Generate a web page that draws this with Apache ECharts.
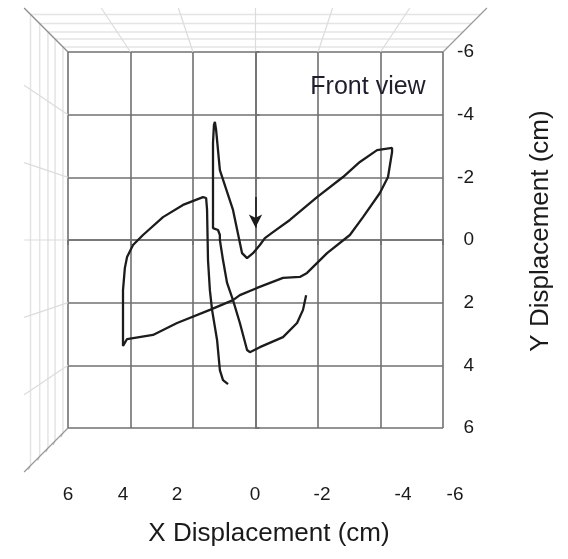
<!DOCTYPE html>
<html>
<head>
<meta charset="utf-8">
<script src="https://cdn.jsdelivr.net/npm/echarts@6/dist/echarts.min.js"></script>
<style>
  html, body { margin: 0; padding: 0; background: #fff; }
  #main { width: 568px; height: 559px; }
</style>
</head>
<body>
<div id="main"></div>
<script>
// traced pen path, cm (x reversed, y reversed on screen)
var traceX = [-1.62, -1.52, -1.33, -0.88, -0.14, 0.18, 0.27, 0.50, 0.72, 0.91, 1.04, 1.14, 1.14, 1.20, 1.36, 1.36, 1.33, 1.30, 1.26, 1.14,
    0.72, 0.43, 0.27, 0.08, -0.14, -0.30, -0.56, -1.10, -1.97, -2.80, -3.34, -3.89, -4.37, -4.37, -4.24, -3.98, -3.44, -3.02, -2.29, -1.65,
    -1.42, -0.88, -0.05, 0.50, 0.72, 1.46, 2.51, 3.28, 4.11, 4.24, 4.24, 4.24, 4.18, 4.11, 3.92, 3.60, 2.96, 2.32, 1.68, 1.58,
    1.55, 1.52, 1.46, 1.39, 1.23, 1.14, 1.04, 0.88];
var traceY = [1.76, 2.23, 2.65, 3.10, 3.42, 3.58, 3.51, 2.65, 1.92, 1.37, 0.64, 0.00, -0.16, -0.32, -0.38, -3.10, -3.67, -3.77, -3.51, -2.23,
    -0.96, 0.42, 0.58, 0.42, 0.16, -0.06, -0.25, -0.64, -1.37, -2.01, -2.49, -2.87, -2.94, -2.81, -2.01, -1.50, -0.73, -0.16, 0.42, 1.05,
    1.18, 1.21, 1.53, 1.76, 1.92, 2.23, 2.65, 3.03, 3.16, 3.38, 3.19, 1.60, 0.89, 0.54, 0.16, -0.16, -0.73, -1.12, -1.37, -1.34,
    -0.96, 0.64, 1.60, 2.23, 3.19, 4.15, 4.47, 4.60];
// start arrow (x, y from, y to)
var arrowX = 0;
var arrowY = [-1.37, -0.40];

var xTickLabels = ['6', '4', '2', '0', '-2', '-4', '-6'];
var xTickLabelPx = [68, 123, 177, 255, 322, 403, 455]; // perspective label positions
var depthLevels = [1.027, 1.069, 1.107, 1.151, 1.2];
var outerDepth = 1.234;

var gridColor = '#707070';
var textColor = '#1a1a1a';
var fontFam = '"Liberation Sans", Arial, sans-serif';

var traceData = traceX.map(function (x, i) { return [x, traceY[i]]; });

var myChart = echarts.init(document.getElementById('main'));

var option = {
    animation: false,
    backgroundColor: '#fff',
    grid: { left: 68, top: 52, width: 375, height: 376 },
    xAxis: {
        type: 'value', min: -6, max: 6, interval: 2, inverse: true,
        axisLine: { show: true, lineStyle: { color: gridColor, width: 1.6 } },
        axisTick: { show: true, length: 5, lineStyle: { color: gridColor, width: 1.6 } },
        axisLabel: { show: false },
        splitLine: { show: true, lineStyle: { color: gridColor, width: 1.6 } }
    },
    yAxis: {
        type: 'value', min: -6, max: 6, interval: 2, inverse: true, position: 'right',
        axisLine: { show: true, lineStyle: { color: gridColor, width: 1.6 } },
        axisTick: { show: true, length: 4, lineStyle: { color: gridColor, width: 1.6 } },
        axisLabel: { align: 'right', margin: 31, fontSize: 19, color: textColor, fontFamily: fontFam },
        splitLine: { show: true, lineStyle: { color: gridColor, width: 1.6 } }
    },
    series: [{
        type: 'line',
        data: traceData,
        showSymbol: false,
        symbol: 'none',
        lineStyle: { color: '#1c1c1c', width: 2.3 },
        z: 5,
        markLine: {
            silent: true,
            symbol: ['none', 'arrow'],
            symbolSize: [10, 13],
            label: { show: false },
            lineStyle: { color: '#1c1c1c', width: 1.6, type: 'solid' },
            data: [[{ coord: [arrowX, arrowY[0]] }, { coord: [arrowX, arrowY[1]] }]]
        }
    }]
};
myChart.setOption(option);

// 3D box decoration around the front face, from the grid corners
var tl = myChart.convertToPixel({ gridIndex: 0 }, [6, -6]);
var br = myChart.convertToPixel({ gridIndex: 0 }, [-6, 6]);
var cx = (tl[0] + br[0]) / 2, cy = (tl[1] + br[1]) / 2;
var tr = [br[0], tl[1]], bl = [tl[0], br[1]];
function proj(p, s) { return [cx + (p[0] - cx) * s, cy + (p[1] - cy) * s]; }
function seg(a, b, color, w) {
    return { type: 'line', silent: true, z: 0,
        shape: { x1: a[0], y1: a[1], x2: b[0], y2: b[1] },
        style: { stroke: color, lineWidth: w } };
}

var graphics = [];
depthLevels.forEach(function (s) {
    graphics.push(seg(proj(tl, s), proj(tr, s), '#e4e4e4', 1.5));
    graphics.push(seg(proj(tl, s), proj(bl, s), '#e4e4e4', 1.5));
    var b = proj(bl, s);
    graphics.push(seg(b, [b[0] - 2, b[1] + 4], '#b0b0b0', 1));
});
[-4, -2, 0, 2, 4].forEach(function (v) {
    var pt = myChart.convertToPixel({ gridIndex: 0 }, [v, -6]);
    graphics.push(seg(pt, proj(pt, outerDepth), '#dcdcdc', 1.2));
    var pl = myChart.convertToPixel({ gridIndex: 0 }, [6, v]);
    graphics.push(seg(pl, proj(pl, outerDepth), '#dcdcdc', 1.2));
});
graphics.push(seg(tl, proj(tl, outerDepth), '#8c8c8c', 1.3));
graphics.push(seg(tr, proj(tr, outerDepth), '#9a9a9a', 1.2));
graphics.push(seg(bl, proj(bl, outerDepth), '#9a9a9a', 1.2));

xTickLabels.forEach(function (t, i) {
    graphics.push({ type: 'text', silent: true,
        style: { x: xTickLabelPx[i], y: 495, text: t, fill: textColor, font: '19px ' + fontFam,
            textAlign: 'center', textVerticalAlign: 'middle' } });
});
graphics.push({ type: 'text', silent: true,
    style: { x: 368, y: 87, text: 'Front view', fill: '#1e1e2e', font: '25px ' + fontFam,
        textAlign: 'center', textVerticalAlign: 'middle' } });
graphics.push({ type: 'text', silent: true,
    style: { x: 269, y: 534, text: 'X Displacement (cm)', fill: textColor, font: '26px ' + fontFam,
        textAlign: 'center', textVerticalAlign: 'middle' } });
graphics.push({ type: 'text', silent: true, x: 541, y: 231, rotation: Math.PI / 2,
    style: { x: 0, y: 0, text: 'Y Displacement (cm)', fill: textColor, font: '26px ' + fontFam,
        textAlign: 'center', textVerticalAlign: 'middle' } });

myChart.setOption({ graphic: graphics });
</script>
</body>
</html>
